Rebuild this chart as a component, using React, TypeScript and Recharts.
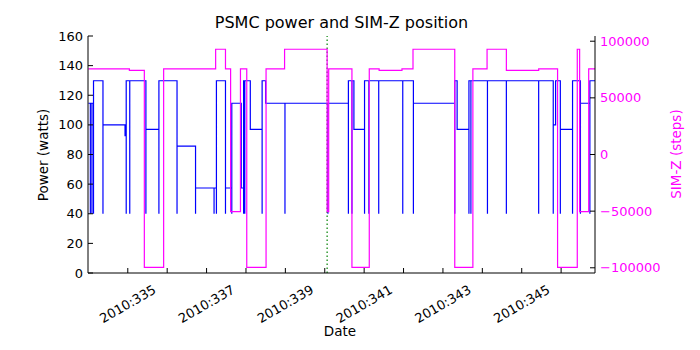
import * as React from "react";
import { Line, LineChart, ReferenceLine, XAxis, YAxis } from "recharts";

// day-of-year 2010 (fractional) and PSMC power in watts
const powerTimes = [
  334.0, 334.05, 334.05, 334.09, 334.09, 334.13, 334.13, 334.37, 334.37, 334.93,
  334.96, 334.96, 335.05, 335.05, 335.46, 335.46, 335.79, 335.79, 336.25, 336.25,
  336.72, 336.72, 337.19, 337.19, 337.25, 337.25, 337.48, 337.48, 337.64, 337.64,
  337.88, 337.94, 337.94, 337.97, 337.97, 338.11, 338.41, 338.41, 338.5, 338.99,
  338.99, 340.08, 340.08, 340.6, 340.6, 340.69, 340.69, 340.74, 341.01, 341.01,
  341.12, 341.12, 341.37, 341.37, 341.98, 341.98, 342.25, 342.25, 343.3, 343.3,
  343.36, 343.66, 343.66, 343.71, 343.71, 344.13, 344.13, 344.61, 344.61, 345.43,
  345.43, 345.8, 345.8, 345.86, 345.98, 345.98, 346.29, 346.29, 346.49, 346.49,
  346.73, 346.73, 346.86,
];
const powerValues = [
  114.6, 40, 114.6, 40, 114.6, 40, 129.8, 40, 100, 92.7,
  40, 129.8, 40, 129.8, 40, 97, 40, 129.8, 40, 85.7,
  40, 57.4, 40, 57.4, 40, 129.8, 40, 57.4, 40, 114.6,
  57.4, 40, 129.8, 40, 129.8, 97, 40, 129.8, 114.6, 40,
  114.6, 40, 114.6, 40, 129.8, 40, 129.8, 97, 40, 129.8,
  40, 129.8, 40, 129.8, 40, 129.8, 40, 114.6, 40, 129.8,
  97, 40, 129.8, 40, 129.8, 40, 129.8, 40, 129.8, 40,
  129.8, 40, 100, 129.8, 40, 97, 40, 129.8, 40, 114.6,
  40, 129.8, 129.8,
];

// SIM-Z position in steps
const simzTimes = [
  334.0, 335.04, 335.42, 335.91, 337.23, 337.48, 337.61, 337.86, 338.02, 338.51,
  338.98, 340.06, 340.1, 340.69, 341.13, 341.38, 341.96, 342.24, 343.3, 343.76,
  344.12, 344.61, 345.43, 345.91, 346.41, 346.47, 346.7, 346.86,
];
const simzValues = [
  75624, 74300, -99616, 75624, 92904, 75624, -50505, 75624, -99616, 75624,
  92904, -50505, 75624, -99616, 75624, 74300, 75624, 92904, -99616, 75624,
  92904, 74300, 75624, -99616, 92904, -50505, 75624, 75624,
];

const dayTicks = [335, 336, 337, 338, 339, 340, 341, 342, 343, 344, 345, 346];
const powerTicks = [0, 20, 40, 60, 80, 100, 120, 140, 160];
const simzTicks = [-100000, -50000, 0, 50000, 100000];
const nowDay = 340.06;

const powerData = powerTimes.map((t, i) => ({ t, power: powerValues[i] }));
const simzData = simzTimes.map((t, i) => ({ t, simz: simzValues[i] }));

const FONT = "DejaVu Sans, sans-serif";
const BLUE = "#0000ff";
const MAGENTA = "#ff00ff";

function BottomTick({ x, y, payload }: any) {
  const major = payload.value % 2 === 1;
  const cy = y + 31;
  return (
    <g>
      <line x1={x} x2={x} y1={y} y2={y - 5} stroke="#000" />
      {major && (
        <text
          x={x}
          y={cy}
          textAnchor="middle"
          dominantBaseline="central"
          transform={`rotate(-30 ${x} ${cy})`}
          fontSize={13}
          fontFamily={FONT}
          fill="#000"
        >
          {`2010:${payload.value}`}
        </text>
      )}
    </g>
  );
}

function TopTick({ x, y }: any) {
  return <line x1={x} x2={x} y1={y} y2={y + 5} stroke="#000" />;
}

function LeftTick({ x, y, payload }: any) {
  return (
    <g>
      <line x1={x} x2={x + 5} y1={y} y2={y} stroke="#000" />
      <text x={x - 5} y={y} textAnchor="end" dominantBaseline="central" fontSize={13} fontFamily={FONT} fill="#000">
        {payload.value}
      </text>
    </g>
  );
}

function RightTick({ x, y, payload }: any) {
  const v = payload.value as number;
  return (
    <g>
      <line x1={x} x2={x - 5} y1={y} y2={y} stroke="#000" />
      <text x={x + 5} y={y} textAnchor="start" dominantBaseline="central" fontSize={13} fontFamily={FONT} fill={MAGENTA}>
        {v < 0 ? `\u2212${-v}` : v}
      </text>
    </g>
  );
}

export default function App() {
  return (
    <div style={{ position: "absolute", left: 0, top: 0, width: 700, height: 350, background: "#fff" }}>
      <LineChart width={700} height={350} margin={{ top: 36, right: 0, bottom: 0, left: 0 }}>
        <XAxis
          xAxisId="b"
          dataKey="t"
          type="number"
          domain={[333.99, 346.86]}
          allowDataOverflow
          ticks={dayTicks}
          height={77}
          tickSize={0}
          tickMargin={0}
          tickLine={false}
          interval={0}
          axisLine={{ stroke: "#000" }}
          tick={<BottomTick />}
        />
        <XAxis
          xAxisId="t"
          orientation="top"
          dataKey="t"
          type="number"
          domain={[333.99, 346.86]}
          allowDataOverflow
          ticks={dayTicks}
          height={0}
          tickSize={0}
          tickMargin={0}
          tickLine={false}
          interval={0}
          axisLine={{ stroke: "#000" }}
          tick={<TopTick />}
        />
        <YAxis
          yAxisId="l"
          domain={[0, 160]}
          ticks={powerTicks}
          width={88}
          tickSize={0}
          tickMargin={0}
          tickLine={false}
          interval={0}
          axisLine={{ stroke: "#000" }}
          tick={<LeftTick />}
        />
        <YAxis
          yAxisId="r"
          orientation="right"
          domain={[-104600, 104600]}
          allowDataOverflow
          ticks={simzTicks}
          width={105}
          tickSize={0}
          tickMargin={0}
          tickLine={false}
          interval={0}
          axisLine={{ stroke: "#000" }}
          tick={<RightTick />}
        />
        <Line
          data={powerData}
          xAxisId="b"
          yAxisId="l"
          dataKey="power"
          type="stepAfter"
          stroke={BLUE}
          strokeWidth={1.2}
          dot={false}
          isAnimationActive={false}
        />
        <ReferenceLine
          x={nowDay}
          xAxisId="b"
          yAxisId="l"
          stroke="#008000"
          strokeDasharray="1.5 2.5"
          strokeWidth={1.2}
        />
        <Line
          data={simzData}
          xAxisId="b"
          yAxisId="r"
          dataKey="simz"
          type="stepAfter"
          stroke={MAGENTA}
          strokeWidth={1.2}
          dot={false}
          isAnimationActive={false}
        />
      </LineChart>
      <svg
        width={700}
        height={350}
        style={{ position: "absolute", left: 0, top: 0, pointerEvents: "none" }}
        fontFamily={FONT}
      >
        <text x={341.5} y={22} textAnchor="middle" dominantBaseline="central" fontSize={16} fill="#000">
          PSMC power and SIM-Z position
        </text>
        <text x={340} y={331} textAnchor="middle" dominantBaseline="central" fontSize={13.5} fill="#000">
          Date
        </text>
        <text
          x={43}
          y={155}
          textAnchor="middle"
          dominantBaseline="central"
          fontSize={13.5}
          fill="#000"
          transform="rotate(-90 43 155)"
        >
          Power (watts)
        </text>
        <text
          x={676}
          y={154}
          textAnchor="middle"
          dominantBaseline="central"
          fontSize={13.5}
          fill={MAGENTA}
          transform="rotate(-90 676 154)"
        >
          SIM-Z (steps)
        </text>
      </svg>
    </div>
  );
}
